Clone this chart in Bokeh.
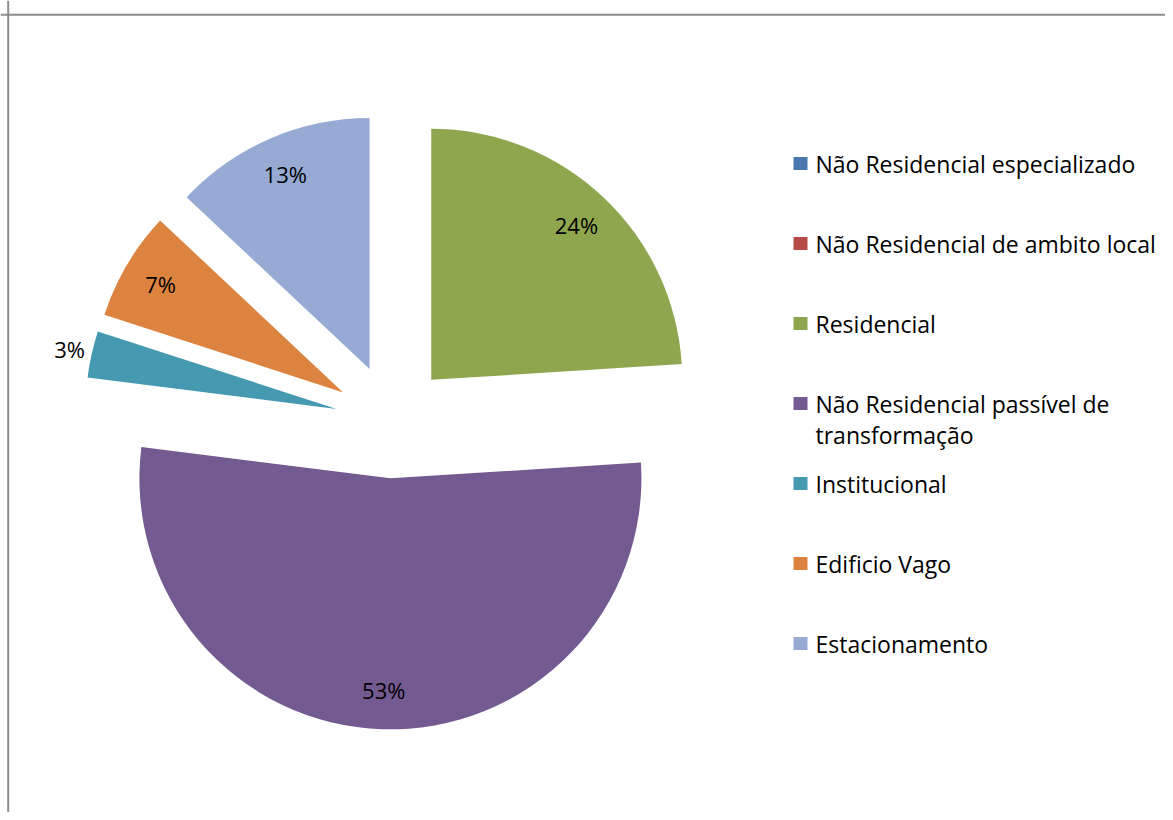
import math
from bokeh.plotting import figure
from bokeh.models import Range1d, Span
from bokeh.core.properties import value
from bokeh.embed import file_html
from bokeh.resources import INLINE

# ---- data ----
categories = [
    "Não Residencial especializado",
    "Não Residencial de ambito local",
    "Residencial",
    "Não Residencial passível de transformação",
    "Institucional",
    "Edificio Vago",
    "Estacionamento",
]
legend_labels = [
    "Não Residencial especializado",
    "Não Residencial de ambito local",
    "Residencial",
    "Não Residencial passível de\ntransformação",
    "Institucional",
    "Edificio Vago",
    "Estacionamento",
]
percentages = [0, 0, 24, 53, 3, 7, 13]
colors = ["#4A77AE", "#B54A47", "#8EA74F", "#735A90", "#4599B1", "#DC843F", "#96AAD3"]

# ---- layout (page pixel coordinates) ----
W, H = 1165, 812
FONT = "Open Sans"
CX, CY = 391.7, H - 420.9
R = 251
EXPLODE = 57

p = figure(width=W, height=H, output_backend="svg", toolbar_location=None,
           x_range=Range1d(0, W), y_range=Range1d(0, H), min_border=0)
p.axis.visible = False
p.grid.visible = False
p.outline_line_color = None
p.background_fill_color = "white"
p.border_fill_color = "white"

p.add_layout(Span(location=H - 14.3, dimension="width", line_color="#8C8C8C", line_width=2))
p.add_layout(Span(location=7.7, dimension="height", line_color="#8C8C8C", line_width=2))

total = sum(percentages)
cum = 0.0
wx, wy, sa, ea, wc = [], [], [], [], []
lx, ly, lt = [], [], []
for cat, v, c in zip(categories, percentages, colors):
    a1 = 360.0 * cum / total
    cum += v
    a2 = 360.0 * cum / total
    if v <= 0:
        continue
    mid = math.radians((a1 + a2) / 2)
    ox = CX + EXPLODE * math.sin(mid)
    oy = CY + EXPLODE * math.cos(mid)
    wx.append(ox); wy.append(oy)
    sa.append(math.radians(90 - a1)); ea.append(math.radians(90 - a2))
    wc.append(c)
    rl = R * (0.845 if v >= 5 else 1.09)
    lx.append(ox + rl * math.sin(mid)); ly.append(oy + rl * math.cos(mid))
    lt.append(f"{v}%")

p.wedge(x=wx, y=wy, radius=R, start_angle=sa, end_angle=ea, direction="clock",
        fill_color=wc, line_color=None)
p.text(x=lx, y=ly, text=lt, text_align="center", text_baseline="middle",
       text_font=value(FONT), text_font_size="22px", text_color="black")

# legend
LEG_SQ_X = 800
LEG_TX = 815
LEG_Y0 = 163
LEG_STEP = 80
LINE_H = 31
sqx, sqy, sqc = [], [], []
tx, ty, tt = [], [], []
for i, (lab, c) in enumerate(zip(legend_labels, colors)):
    yc = H - (LEG_Y0 + LEG_STEP * i)
    sqx.append(LEG_SQ_X); sqy.append(yc); sqc.append(c)
    for j, line in enumerate(lab.split("\n")):
        tx.append(LEG_TX); ty.append(yc - j * LINE_H); tt.append(line)
p.rect(x=sqx, y=sqy, width=14, height=13, fill_color=sqc, line_color=None)
p.text(x=tx, y=ty, text=tt, text_align="left", text_baseline="middle",
       text_font=value(FONT), text_font_size="23px", text_color="black")

open("out.html", "w").write(file_html(p, INLINE))
